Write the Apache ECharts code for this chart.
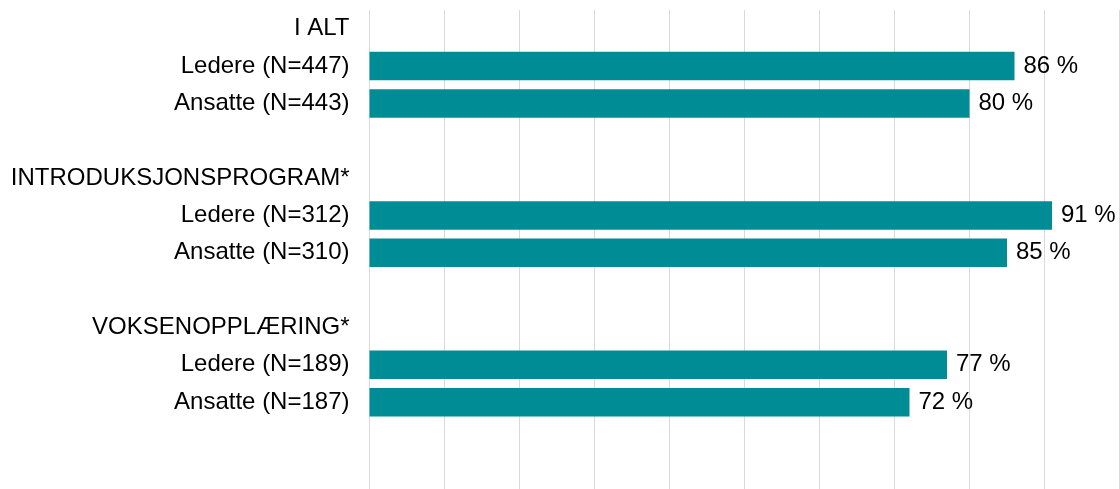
<!DOCTYPE html>
<html>
<head>
<meta charset="utf-8">
<script src="https://cdn.jsdelivr.net/npm/echarts@6/dist/echarts.min.js"></script>
<style>
html,body{margin:0;padding:0;background:#fff;}
#chart{width:1120px;height:489px;}
</style>
</head>
<body>
<div id="chart"></div>
<script>
const categories = [
  'I ALT', 'Ledere (N=447)', 'Ansatte (N=443)', ' ',
  'INTRODUKSJONSPROGRAM*', 'Ledere (N=312)', 'Ansatte (N=310)', '  ',
  'VOKSENOPPLÆRING*', 'Ledere (N=189)', 'Ansatte (N=187)', '   ', '    '
];
const values = [
  null, 86, 80, null,
  null, 91, 85, null,
  null, 77, 72, null, null
];
const xTicks = { min: 0, max: 100, interval: 10 };

const font = '"Liberation Sans", Arial, Helvetica, sans-serif';
const chart = echarts.init(document.getElementById('chart'), null, { renderer: 'canvas' });
chart.setOption({
  animation: false,
  backgroundColor: '#ffffff',
  grid: { left: 369.5, right: 0.5, top: 10.1, height: 485.4, containLabel: false, outerBoundsMode: 'none' },
  xAxis: {
    type: 'value',
    min: xTicks.min, max: xTicks.max, interval: xTicks.interval,
    axisLabel: { show: false },
    axisTick: { show: false },
    axisLine: { show: false },
    splitLine: { show: true, lineStyle: { color: '#d9d9d9', width: 1 } }
  },
  yAxis: {
    type: 'category',
    inverse: true,
    data: categories,
    axisLine: { show: false },
    axisTick: { show: false },
    axisLabel: { color: '#000', fontSize: 24, fontFamily: font, margin: 20, padding: [2, 0, 0, 0] }
  },
  series: [{
    type: 'bar',
    data: values,
    barWidth: 28.5,
    itemStyle: { color: '#008c94' },
    label: {
      show: true, position: 'right', distance: 9,
      color: '#000', fontSize: 24, fontFamily: font,
      formatter: p => p.value + ' %'
    }
  }]
});
</script>
</body>
</html>
